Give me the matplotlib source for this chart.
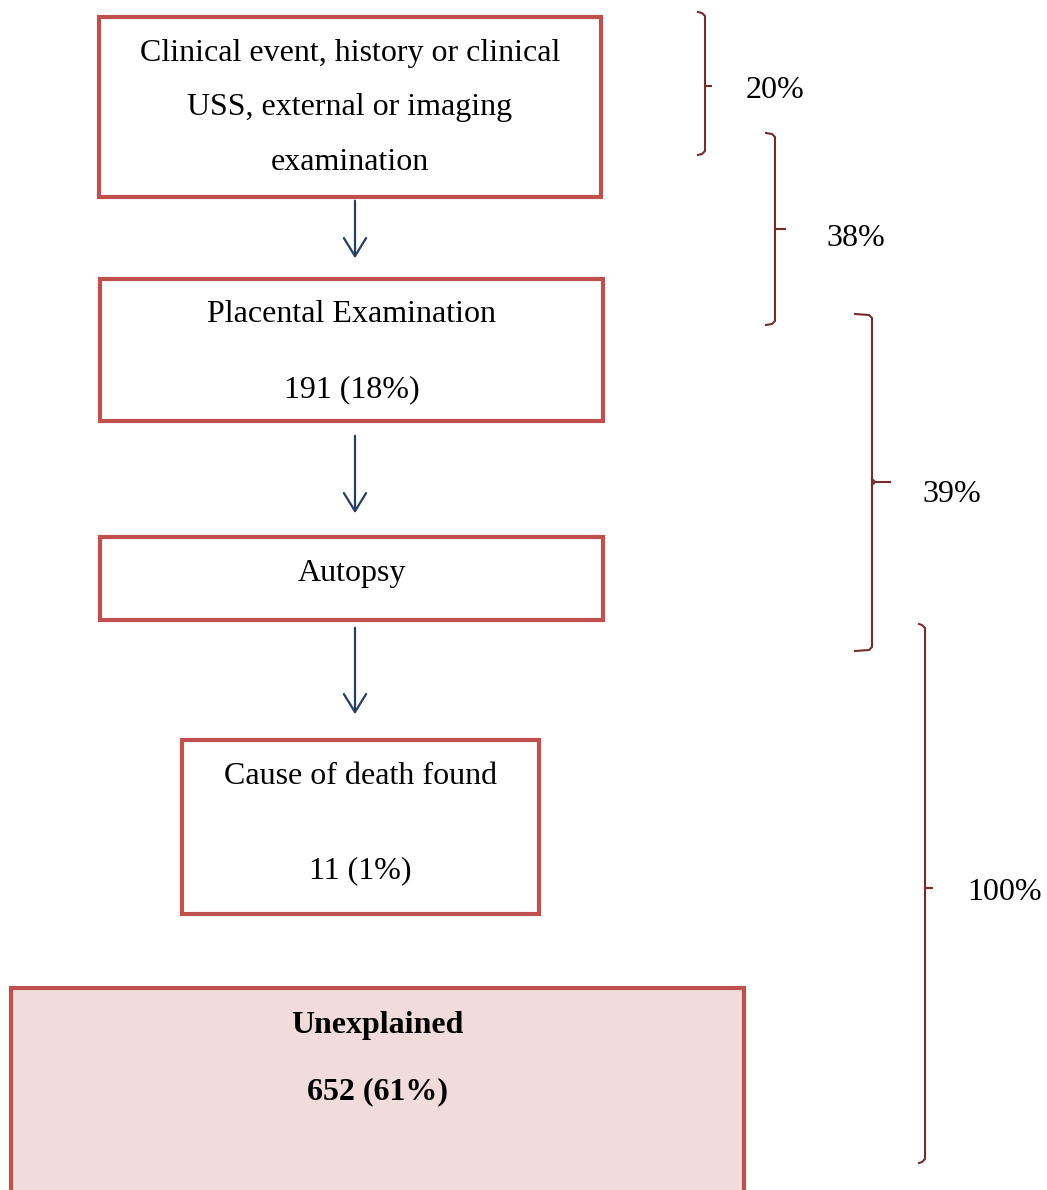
import matplotlib.pyplot as plt
from matplotlib.patches import Rectangle, FancyArrowPatch

plt.rcParams['font.family'] = ['Liberation Serif', 'DejaVu Serif']

# flow steps, top to bottom
box_lines = [
    ["Clinical event, history or clinical", "USS, external or imaging", "examination"],
    ["Placental Examination", "191 (18%)"],
    ["Autopsy"],
    ["Cause of death found", "11 (1%)"],
    ["Unexplained", "652 (61%)"],
]
bracket_labels = ["20%", "38%", "39%", "100%"]

# layout in pixel units (x0, x1, y0, y1) and text rows
box_pos = [(99, 601, 17, 197), (100, 603, 279, 421), (100, 603, 537, 620),
           (182, 539, 740, 914), (11, 744, 988, 1196)]
text_rows = [[53, 108, 163], [315, 390], [573], [776, 871], [1025, 1092]]
arrow_pos = [(198, 261), (433, 516), (625, 717)]
# x, top, bottom, tick y, label x, label y, hook, tick length
bracket_pos = [(705, 12, 155, 86, 775, 90, 7, 6), (775, 133, 325, 229, 856, 238, 9, 10),
               (872, 314, 651, 482, 952, 494, 17, 18), (925, 624, 1163, 888, 1005, 892, 6, 7)]

border = "#C0504D"
bracket_col = "#772C2C"
arrow_col = "#243F60"

fig = plt.figure(figsize=(10.47, 11.9), dpi=100)
ax = fig.add_axes([0, 0, 1, 1])
ax.set_xlim(0, 1047)
ax.set_ylim(1190, 0)
ax.axis("off")

for i, ((x0, x1, y0, y1), lines, rows) in enumerate(zip(box_pos, box_lines, text_rows)):
    last = i == len(box_pos) - 1
    ax.add_patch(Rectangle((x0, y0), x1 - x0, y1 - y0, facecolor="#F2DCDB" if last else "white",
                           edgecolor=border, linewidth=3, zorder=2))
    cx = (x0 + x1) / 2
    for txt, y in zip(lines, rows):
        ax.text(cx, y, txt, ha="center", va="center", fontsize=23,
                fontweight="bold" if last else "normal", zorder=3)

for y0, y1 in arrow_pos:
    ax.add_patch(FancyArrowPatch((355, y0), (355, y1), arrowstyle="->,head_length=13,head_width=8",
                                 color=arrow_col, linewidth=1.6, mutation_scale=1, zorder=1))

for (x, top, bot, ty, lx, ly, hook, tick), lab in zip(bracket_pos, bracket_labels):
    ax.plot([x - hook, x - 3, x, x, x - 3, x - hook],
            [top, top + 1, top + 4, bot - 4, bot - 1, bot], color=bracket_col, lw=1.5)
    ax.plot([x, x + 3, x + tick], [ty - 3 if tick > 12 else ty, ty, ty], color=bracket_col, lw=1.5)
    if tick > 12:
        ax.plot([x, x + 3], [ty + 3, ty], color=bracket_col, lw=1.5)
    ax.text(lx, ly, lab, ha="center", va="center", fontsize=23)

fig.savefig("out.png", dpi=100)
